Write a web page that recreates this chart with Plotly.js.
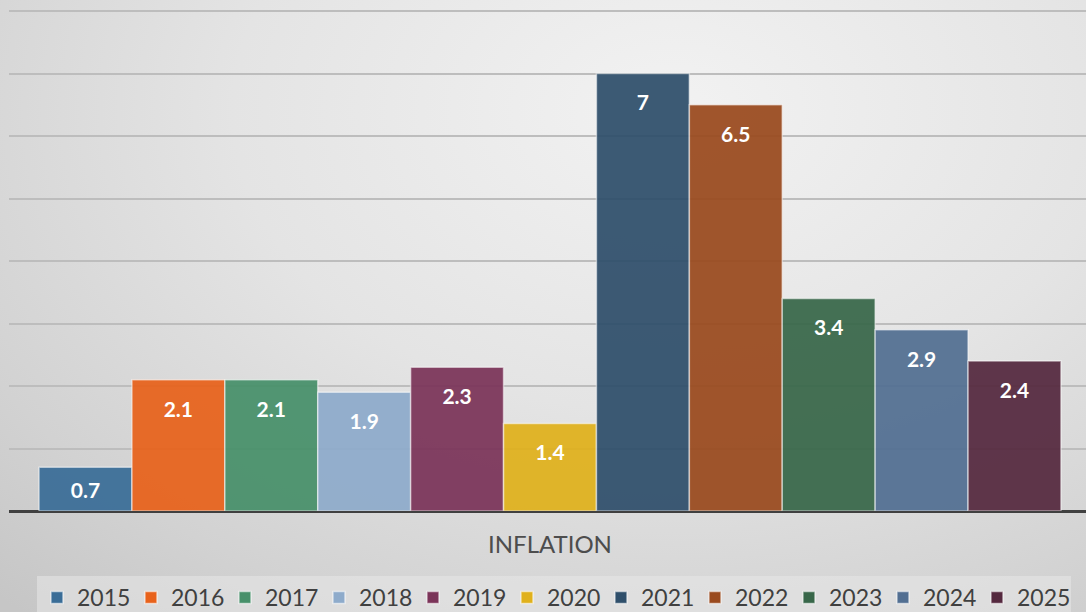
<!DOCTYPE html>
<html>
<head>
<meta charset="utf-8">
<script src="https://cdn.plot.ly/plotly-3.0.1.min.js"></script>
<style>
  html, body { margin: 0; padding: 0; }
  #chart {
    width: 1086px; height: 612px;
    background: radial-gradient(ellipse 90% 110% at 62% 18%, #f2f2f2 0%, #e4e4e4 45%, #d2d2d2 80%, #c6c6c6 100%);
  }
</style>
</head>
<body>
<div id="chart"></div>
<script>
const categories = ["INFLATION"];
const years = ["2015","2016","2017","2018","2019","2020","2021","2022","2023","2024","2025"];
const values = [0.7, 2.1, 2.1, 1.9, 2.3, 1.4, 7, 6.5, 3.4, 2.9, 2.4];
const colors = ["#3a6d97","#e8621b","#47906a","#8eabcb","#7b3459","#e0b11c",
                "#2f4f6b","#9a4a1e","#386749","#526f92","#55293f"];

const bars = years.map((yr, i) => ({
  type: "bar",
  name: yr,
  x: categories,
  y: [values[i]],
  offsetgroup: yr,
  marker: { color: colors[i], opacity: 0.93, line: { color: "rgba(255,255,255,0.55)", width: 1.5 } },
  hoverinfo: "none"
}));

const labels = years.map((yr, i) => ({
  type: "scatter",
  mode: "markers+text",
  name: yr + " label",
  showlegend: false,
  x: categories,
  y: [values[i]],
  offsetgroup: yr,
  text: [String(values[i])],
  textposition: "bottom center",
  textfont: { family: "Lato, sans-serif", size: 21, color: "#ffffff", weight: "bold" },
  marker: { size: values[i] < 1 ? 22 : 32, opacity: 0 },
  hoverinfo: "none",
  cliponaxis: false
}));

const layout = {
  width: 1086, height: 612,
  paper_bgcolor: "rgba(0,0,0,0)",
  plot_bgcolor: "rgba(0,0,0,0)",
  margin: { l: 9, r: 0, t: 8, b: 101, pad: 0, autoexpand: false },
  barmode: "group",
  scattermode: "group",
  bargap: 0.0555,
  bargroupgap: 0,
  scattergap: 0.0555,
  font: { family: "Lato, sans-serif", color: "#404040" },
  xaxis: {
    type: "category",
    range: [-0.5, 0.4954],
    showgrid: false, showline: false, zeroline: false,
    ticks: "",
    ticklabelstandoff: 17,
    tickfont: { family: "Lato, sans-serif", size: 24, color: "#4d4d4d" }
  },
  yaxis: {
    range: [0, 8.048],
    dtick: 1,
    showticklabels: false,
    showgrid: true, gridcolor: "#bdbdbd", gridwidth: 2,
    zeroline: true, zerolinecolor: "#404040", zerolinewidth: 3,
    showline: false, ticks: ""
  },
  showlegend: true,
  legend: {
    orientation: "h",
    x: 0.506, xanchor: "center",
    y: -0.1292, yanchor: "top",
    bgcolor: "rgba(232,232,232,0.55)",
    font: { family: "Lato, sans-serif", size: 23, color: "#404040" },
    entrywidth: 49,
    entrywidthmode: "pixels",
    itemclick: false
  }
};

Plotly.newPlot("chart", bars.concat(labels), layout, { displayModeBar: false, staticPlot: true });
</script>
</body>
</html>
